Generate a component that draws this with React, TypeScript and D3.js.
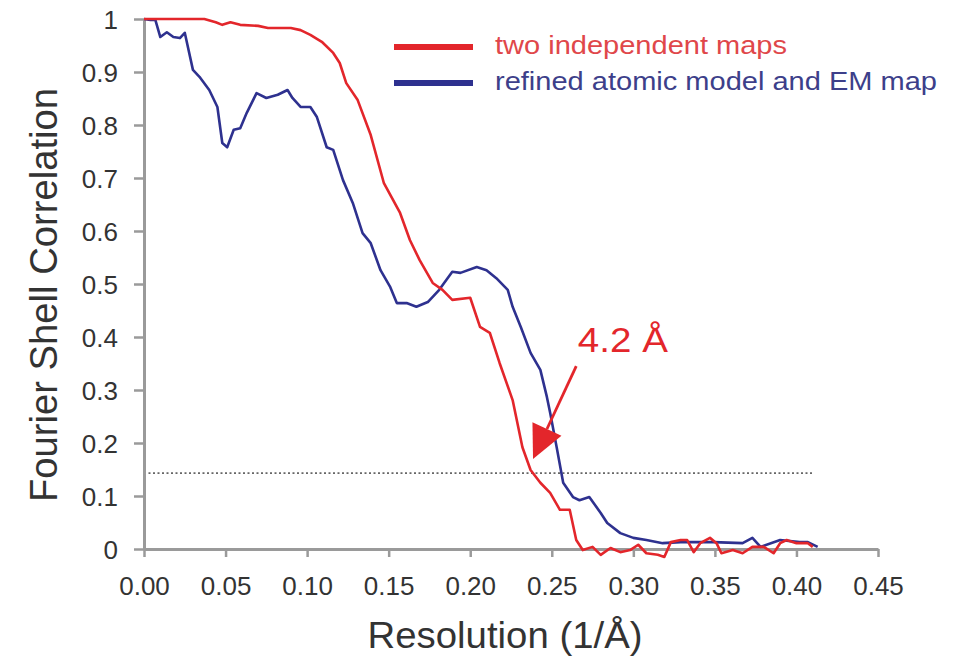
import React, { useEffect, useRef } from "react";
import * as d3 from "d3";

const redX = [0.000,0.037,0.044,0.048,0.053,0.059,0.070,0.076,0.090,0.096,0.102,0.109,0.116,0.120,0.124,0.131,0.139,0.147,0.157,0.163,0.169,0.177,0.183,0.189,0.200,0.206,0.212,0.218,0.226,0.232,0.237,0.243,0.249,0.255,0.261,0.265,0.269,0.275,0.280,0.286,0.292,0.298,0.303,0.308,0.315,0.319,0.323,0.329,0.333,0.337,0.341,0.347,0.351,0.354,0.361,0.367,0.373,0.380,0.386,0.390,0.394,0.400,0.407,0.410];
const redY = [1.000,1.000,0.994,0.989,0.994,0.989,0.987,0.983,0.983,0.979,0.970,0.957,0.936,0.917,0.879,0.847,0.781,0.691,0.634,0.583,0.545,0.502,0.489,0.470,0.474,0.419,0.408,0.351,0.281,0.192,0.149,0.125,0.106,0.074,0.074,0.017,-0.002,0.004,-0.011,0.002,-0.006,-0.002,0.008,-0.008,-0.011,-0.015,0.013,0.017,0.017,-0.006,0.011,0.021,0.011,-0.008,-0.002,-0.008,0.004,0.004,-0.008,0.011,0.017,0.011,0.011,0.004];

const blueX = [0.000,0.004,0.007,0.010,0.014,0.018,0.022,0.025,0.030,0.034,0.040,0.045,0.048,0.051,0.055,0.059,0.063,0.069,0.075,0.082,0.088,0.091,0.096,0.102,0.106,0.112,0.116,0.122,0.128,0.134,0.139,0.145,0.151,0.155,0.161,0.167,0.174,0.181,0.189,0.194,0.204,0.210,0.216,0.223,0.226,0.231,0.237,0.243,0.247,0.249,0.253,0.257,0.263,0.267,0.273,0.280,0.284,0.292,0.300,0.308,0.318,0.329,0.349,0.367,0.373,0.378,0.390,0.402,0.407,0.413];
const blueY = [1.000,0.998,0.998,0.966,0.975,0.966,0.964,0.974,0.904,0.891,0.866,0.834,0.766,0.758,0.791,0.794,0.823,0.860,0.851,0.857,0.866,0.851,0.834,0.834,0.815,0.758,0.753,0.696,0.653,0.596,0.577,0.526,0.494,0.464,0.464,0.457,0.466,0.489,0.523,0.521,0.532,0.526,0.511,0.489,0.457,0.419,0.370,0.338,0.287,0.257,0.192,0.125,0.098,0.092,0.098,0.068,0.049,0.030,0.021,0.017,0.011,0.013,0.013,0.011,0.021,0.004,0.017,0.013,0.013,0.004];

const xTicks = [0, 0.05, 0.1, 0.15, 0.2, 0.25, 0.3, 0.35, 0.4, 0.45];
const yTicks = [0, 0.1, 0.2, 0.3, 0.4, 0.5, 0.6, 0.7, 0.8, 0.9, 1];
const seriesNames = ["two independent maps", "refined atomic model and EM map"];
const thresholdY = [0.143];
const thresholdX = [0, 0.41];
const annotationText = "4.2 Å";
const arrowFrom = [0.265, 0.345];
const arrowTo = [0.2385, 0.17];

const W = 964, H = 658;
const FONT = "'Liberation Sans', Arial, sans-serif";
const RED = "#e3262b";
const BLUE = "#2e318f";
const AXIS = "#9a9a9a";

export default function App() {
  const xAxisRef = useRef<SVGGElement>(null);
  const yAxisRef = useRef<SVGGElement>(null);

  const x = d3.scaleLinear().domain([0, 0.45]).range([144, 878]);
  const y = d3.scaleLinear().domain([0, 1]).range([549, 19]);

  useEffect(() => {
    const xa = d3.axisBottom(x).tickValues(xTicks).tickSize(8).tickSizeOuter(0).tickPadding(19.5)
      .tickFormat((d: any) => (+d).toFixed(2));
    const ya = d3.axisLeft(y).tickValues(yTicks).tickSize(10).tickSizeOuter(0).tickPadding(16)
      .tickFormat((d: any) => (d === 0 || d === 1 ? String(d) : (+d).toFixed(1)));
    const gx = d3.select(xAxisRef.current!);
    gx.call(xa as any);
    const gy = d3.select(yAxisRef.current!);
    gy.call(ya as any);
    [gx, gy].forEach((g) => {
      g.selectAll(".domain").attr("stroke", AXIS).attr("stroke-width", 3);
      g.selectAll(".tick line").attr("stroke", AXIS).attr("stroke-width", 2.5);
      g.selectAll(".tick text").attr("fill", "#333").style("font-size", "26px").style("font-family", FONT);
    });
    gx.selectAll(".tick text").attr("dy", "0.71em");
    gy.selectAll(".tick text").attr("dy", "0.35em");
  }, []);

  const line = d3.line<[number, number]>().x((d) => x(d[0])).y((d) => y(d[1]));
  const redPts = redX.map((v, i) => [v, redY[i]] as [number, number]);
  const bluePts = blueX.map((v, i) => [v, blueY[i]] as [number, number]);

  // arrow geometry
  const fx = x(arrowFrom[0]), fy = y(arrowFrom[1]);
  const tx = x(arrowTo[0]), ty = y(arrowTo[1]);
  const dx = tx - fx, dy = ty - fy;
  const len = Math.hypot(dx, dy);
  const ux = dx / len, uy = dy / len;
  const headL = 33, headW = 16;
  const bx = tx - ux * headL, by = ty - uy * headL;
  const head = `M${tx},${ty} L${bx + uy * headW},${by - ux * headW} L${bx - uy * headW},${by + ux * headW} Z`;

  return (
    <svg width={W} height={H} style={{ position: "absolute", left: 0, top: 0, background: "#fff" }}>
      <rect width={W} height={H} fill="#fff" />
      <line x1={x(thresholdX[0])} x2={x(thresholdX[1])} y1={y(thresholdY[0])} y2={y(thresholdY[0])}
        stroke="#666" strokeWidth={1.8} strokeDasharray="2,2.5" />
      <g ref={xAxisRef} transform={`translate(0,${y(0)})`} />
      <g ref={yAxisRef} transform={`translate(${x(0)},0)`} />
      <path d={line(bluePts) || ""} fill="none" stroke={BLUE} strokeWidth={2.6} strokeLinejoin="round" />
      <path d={line(redPts) || ""} fill="none" stroke={RED} strokeWidth={2.6} strokeLinejoin="round" />
      <line x1={fx} y1={fy} x2={bx} y2={by} stroke={RED} strokeWidth={2.8} />
      <path d={head} fill={RED} />
      <text x={x(0.266)} y={y(0.372)} fill={RED} fontSize={35} fontFamily={FONT} textLength={90} lengthAdjust="spacingAndGlyphs">{annotationText}</text>
      <line x1={394} x2={473} y1={47} y2={47} stroke={RED} strokeWidth={6} />
      <line x1={394} x2={473} y1={83} y2={83} stroke={BLUE} strokeWidth={6} />
      <text x={495} y={54} fill="#e0474a" fontSize={26} fontFamily={FONT} textLength={292} lengthAdjust="spacingAndGlyphs">{seriesNames[0]}</text>
      <text x={495} y={90} fill="#3d3f8a" fontSize={26} fontFamily={FONT} textLength={442} lengthAdjust="spacingAndGlyphs">{seriesNames[1]}</text>
      <text x={505} y={648} textAnchor="middle" fill="#333" fontSize={37} fontFamily={FONT} textLength={275} lengthAdjust="spacingAndGlyphs">Resolution (1/Å)</text>
      <text transform={`translate(57,295) rotate(-90)`} textAnchor="middle" fill="#333" fontSize={38} fontFamily={FONT} textLength={414} lengthAdjust="spacingAndGlyphs">Fourier Shell Correlation</text>
    </svg>
  );
}
